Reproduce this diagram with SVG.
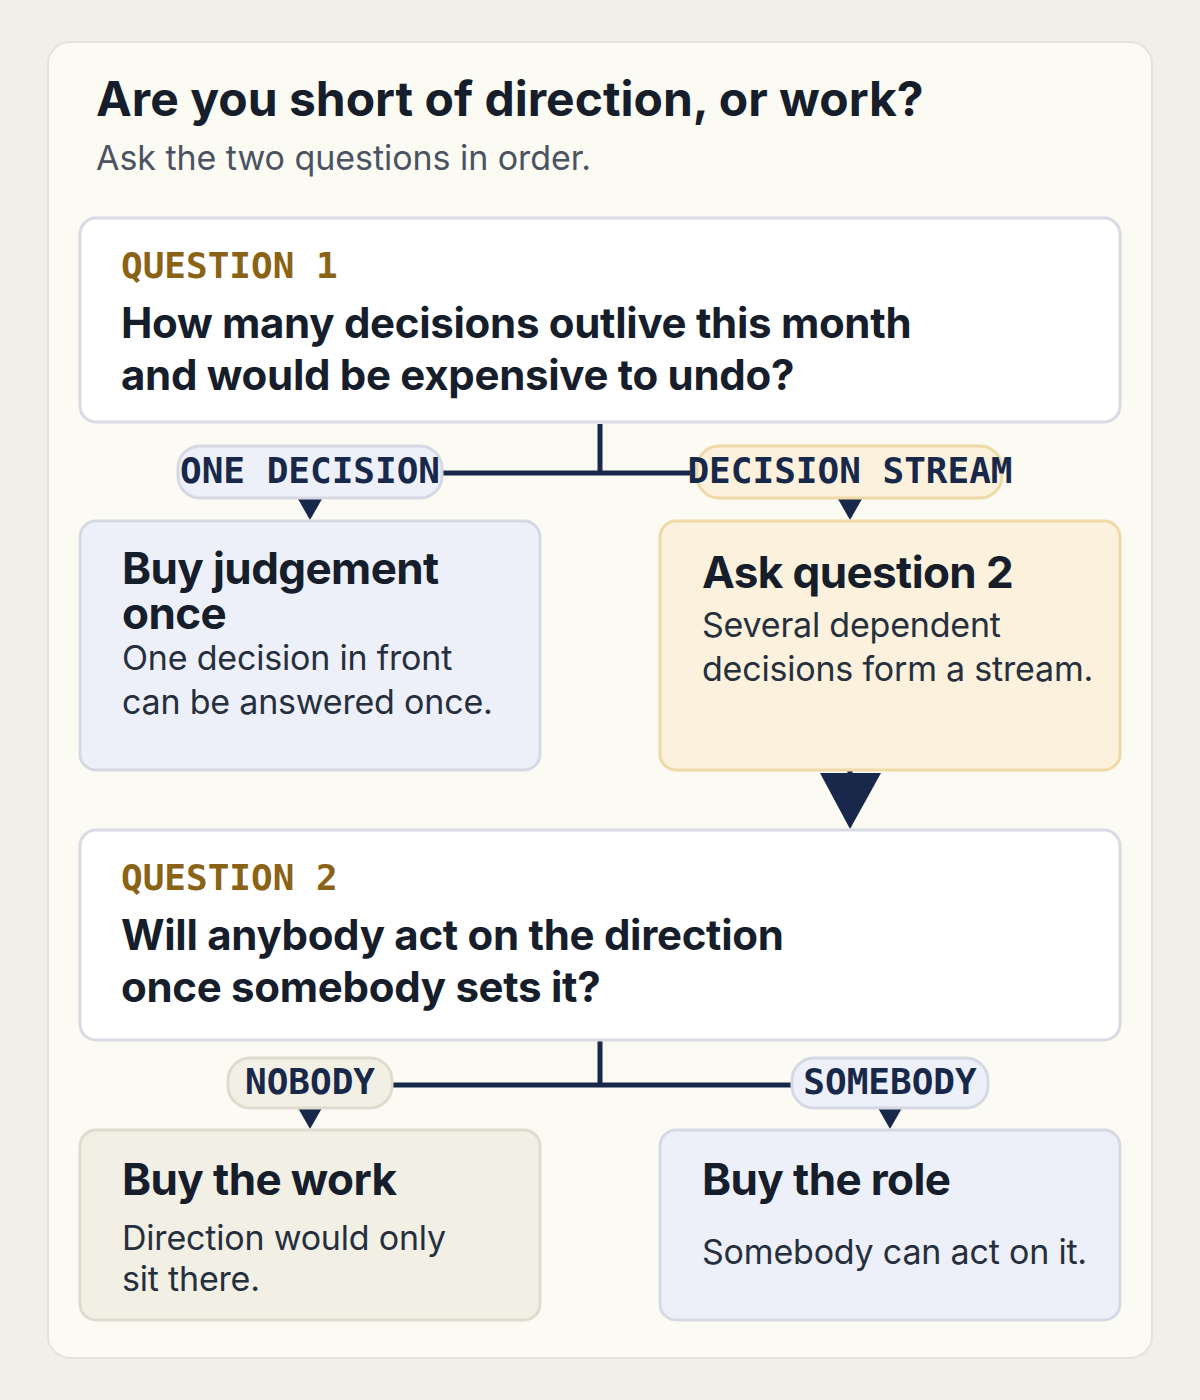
<svg xmlns="http://www.w3.org/2000/svg" width="1200" height="1400" viewBox="0 0 1200 1400">
<style>
.bold{font-family:Inter,"Noto Sans","Liberation Sans",sans-serif;font-weight:700;fill:#161d2b}
.h1{font-size:48px;letter-spacing:0px}
.q{font-size:42px;letter-spacing:-0.3px}
.t{font-size:44px;letter-spacing:-0.6px}
.body{font-family:Inter,"Noto Sans","Liberation Sans",sans-serif;font-weight:400;font-size:34px;fill:#262f3d;letter-spacing:-0.2px}
.sub{font-family:Inter,"Noto Sans","Liberation Sans",sans-serif;font-weight:400;font-size:34px;fill:#4b5362;letter-spacing:-0.05px}
.mono{font-family:"DejaVu Sans Mono","Liberation Mono",monospace;font-weight:700;font-size:36px}
.kick{fill:#8a6317}
.lbl{fill:#18284a;text-anchor:middle}
.white{fill:#ffffff;stroke:#d9dae3;stroke-width:3}
.blue{fill:#edf0f8;stroke:#d6d9e3;stroke-width:3}
.sand{fill:#fbf1dc;stroke:#efd9a6;stroke-width:3}
.grey{fill:#f2efe5;stroke:#dfdccf;stroke-width:3}
.line{fill:none;stroke:#18284a;stroke-width:5}
.head{fill:#18284a}
</style>
<rect x="0" y="0" width="1200" height="1400" fill="#f1efe9"/>
<rect x="48" y="42" width="1104" height="1316" rx="22" fill="#fbfaf3" stroke="#e6e3da" stroke-width="2"/>
<g id="title">
<text class="bold h1" x="96" y="116">Are you short of direction, or work?</text>
<text class="sub" x="96" y="170">Ask the two questions in order.</text>
</g>
<g id="connectors">
<path class="line" d="M600 424 V473 M440 473 H690"/>
<path class="head" d="M298 499 H322 L310 520 Z"/>
<path class="head" d="M838 499 H862 L850 520 Z"/>
<path class="line" d="M850 770 V776"/>
<path class="head" d="M820 773 H881 L850 829 Z"/>
<path class="line" d="M600 1041 V1085 M392 1085 H792"/>
<path class="head" d="M298 1108 H322 L310 1129 Z"/>
<path class="head" d="M878 1108 H902 L890 1129 Z"/>
</g>
<g id="q1">
<rect class="white" x="80" y="218" width="1040" height="204" rx="16"/>
<text class="mono kick" x="121" y="278">QUESTION 1</text>
<text class="bold q" x="121" y="338">How many decisions outlive this month</text>
<text class="bold q" x="121" y="390">and would be expensive to undo?</text>
</g>
<g id="label-one">
<rect class="blue" x="178" y="446" width="264" height="52" rx="22"/>
<text class="mono lbl" x="310" y="483">ONE DECISION</text>
</g>
<g id="label-stream">
<rect class="sand" x="697" y="446" width="305" height="52" rx="22"/>
<text class="mono lbl" x="850" y="483">DECISION STREAM</text>
</g>
<g id="judgement">
<rect class="blue" x="80" y="521" width="460" height="249" rx="16"/>
<text class="bold t" x="122" y="584">Buy judgement</text>
<text class="bold t" x="122" y="629">once</text>
<text class="body" x="122" y="670">One decision in front</text>
<text class="body" x="122" y="714">can be answered once.</text>
</g>
<g id="ask2">
<rect class="sand" x="660" y="521" width="460" height="249" rx="16"/>
<text class="bold t" x="702" y="588">Ask question 2</text>
<text class="body" x="702" y="637">Several dependent</text>
<text class="body" x="702" y="681">decisions form a stream.</text>
</g>
<g id="q2">
<rect class="white" x="80" y="830" width="1040" height="210" rx="16"/>
<text class="mono kick" x="121" y="890">QUESTION 2</text>
<text class="bold q" x="121" y="950">Will anybody act on the direction</text>
<text class="bold q" x="121" y="1002">once somebody sets it?</text>
</g>
<g id="label-nobody">
<rect class="grey" x="228" y="1058" width="164" height="50" rx="22"/>
<text class="mono lbl" x="310" y="1094">NOBODY</text>
</g>
<g id="label-somebody">
<rect class="blue" x="792" y="1058" width="196" height="50" rx="22"/>
<text class="mono lbl" x="890" y="1094">SOMEBODY</text>
</g>
<g id="work">
<rect class="grey" x="80" y="1130" width="460" height="190" rx="16"/>
<text class="bold t" x="122" y="1195">Buy the work</text>
<text class="body" x="122" y="1250">Direction would only</text>
<text class="body" x="122" y="1291">sit there.</text>
</g>
<g id="role">
<rect class="blue" x="660" y="1130" width="460" height="190" rx="16"/>
<text class="bold t" x="702" y="1195">Buy the role</text>
<text class="body" x="702" y="1264">Somebody can act on it.</text>
</g>
</svg>
